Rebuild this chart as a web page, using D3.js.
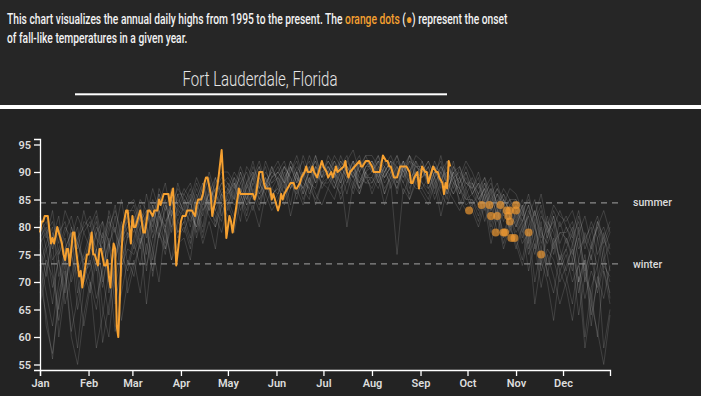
<!DOCTYPE html>
<html><head><meta charset="utf-8">
<script src="https://cdn.jsdelivr.net/npm/d3@7"></script>
<style>
html,body{margin:0;padding:0;background:#242424;}
svg{display:block;}
</style></head>
<body>
<svg id="chart" width="701" height="396"></svg>
<script>
// ---------- DATA ----------
const introLine1 = ["This chart visualizes the annual daily highs from 1995 to the present. The ", "orange dots", " (", "●", ") represent the onset"];
const introLine2 = "of fall-like temperatures in a given year.";
const cityTitle = "Fort Lauderdale, Florida";

const yTicks = [55, 60, 65, 70, 75, 80, 85, 90, 95];
const thresholdNames = ["summer", "winter"];
const thresholdValues = [84.4, 73.3];

// Current year: day of year (0 = Jan 1) and daily high (°F)
const currentDay = [0,1,2,3,5,7,8,9,11,13,14,15,16,17,18,19,21,22,23,25,26,27,28,30,31,33,34,35,37,38,39,41,42,43,44,45,46,47,48,49,50,51,52,53,55,56,58,59,60,61,63,64,65,66,67,69,70,72,73,75,76,77,79,81,82,83,84,85,86,87,89,90,91,93,94,96,97,99,100,101,103,104,105,106,107,109,110,112,113,114,116,117,118,119,121,122,123,125,126,127,128,130,132,134,136,137,138,139,140,142,143,144,147,148,149,150,152,153,154,155,156,158,160,162,163,164,166,167,169,170,171,173,174,175,177,178,179,180,181,183,184,186,187,188,189,190,194,195,196,197,198,201,204,205,206,208,210,212,213,217,219,221,222,223,224,226,228,229,230,234,236,237,238,239,241,242,243,244,246,247,248,250,251,253,254,255,257,258,259,260,261,262];
const currentHigh = [79,81,81,82,82,77,78,77,80,78,77,75,74,76,76,73,79,79,76,71,72,69,71,75,75,79,75,75,73,76,76,73,73,74,71,69,74,77,76,62,60,67,75,80,83,83,77,82,80,80,82,83,81,79,79,83,83,82,83,83,85,84,86,86,86,84,86,87,80,73,78,81,82,82,83,83,83,82,84,85,85,86,88,89,89,86,82,85,87,89,94,89,84,78,82,81,79,83,85,87,86,86,86,86,86,85,86,88,90,90,88,87,87,85,86,85,83,84,86,85,86,87,88,88,87,87,88,89,90,91,90,90,91,90,89,90,91,92,91,90,89,90,89,90,91,90,91,92,90,89,90,91,92,91,91,92,92,91,90,90,93,92,92,91,91,89,89,90,91,91,90,88,88,89,90,87,89,91,90,90,88,90,91,90,90,89,88,86,88,87,92,91];

// Onset of fall-like temperatures in past years: day of year and high (°F)
const onsetDay = [274,282,287,294,304,288,292,298,300,304,299,300,291,296,297,301,303,312,320];
const onsetHigh = [83,84,84,84,84,82,82,83,83,83,82,81,79,79,79,78,78,79,75];

// Past years: daily highs sampled every 4 days (day 0, 4, ..., 364)
const pastStep = 4;
const pastHighs = [
 [78,80,72,65,76,79,74,70, 75,79,81,68,74,78,80, 82,77,80,84,79,83,85,81, 84,80,86,83,85,87,82, 86,88,84,87,89,86,88,90, 89,87,91,88,90,86,89,91, 90,92,89,91,90,88,91, 92,90,89,91,93,90,88,91, 90,89,91,87,90,88,89,86, 88,85,87,83,86,84,80, 82,78,83,80,76,81,79,74, 78,75,79,72,76,80,74,77],
 [74,68,62,70,75,66,58,69, 72,76,65,60,71,77,79, 76,80,72,82,78,84,80,86, 82,85,79,84,88,83,86, 84,87,89,85,88,91,87,89, 90,88,92,89,87,90,93,89, 91,89,92,90,88,91,93, 90,92,89,91,88,90,92,89, 91,88,90,92,87,89,86,88, 87,89,84,86,82,85,83, 80,84,77,81,73,78,82,76, 72,77,68,74,64,70,76,67],
 [80,82,77,79,81,75,78,80, 82,78,76,80,83,79,81, 79,83,81,85,82,80,84,87, 85,83,87,84,86,89,85, 87,85,88,90,86,89,87,91, 88,91,89,87,90,92,88,90, 92,90,88,91,89,92,90, 91,89,92,90,87,91,93,90, 89,91,88,90,92,88,87,89, 86,88,85,87,84,86,82, 84,80,82,85,79,77,80,83, 80,78,81,76,79,82,77,80],
 [70,64,56,68,73,61,67,72, 68,74,59,66,72,63,70, 74,68,77,72,79,75,82,78, 80,76,83,78,84,81,86, 83,86,81,88,85,89,84,87, 86,89,84,90,87,85,91,88, 89,87,90,86,91,89,88, 88,91,86,90,89,92,87,90, 88,86,90,89,85,91,87,84, 85,82,86,80,84,78,82, 78,74,80,70,76,72,68,75, 71,66,74,60,69,73,58,65],
 [77,79,74,76,80,78,72,75, 79,76,81,77,74,80,82, 80,84,78,82,86,81,83,85, 83,86,82,88,84,87,89, 88,86,90,87,91,88,86,89, 91,88,90,93,89,91,88,92, 90,93,91,89,92,90,93, 93,91,90,92,89,91,90,92, 90,92,89,91,88,90,91,87, 89,86,88,85,87,83,85, 83,81,84,78,82,80,77,79, 79,81,76,78,80,75,78,81],
 [72,76,69,74,66,71,77,73, 70,65,73,77,69,75,72, 77,73,80,76,82,79,74,81, 79,83,80,85,82,80,84, 85,82,87,84,86,83,88,86, 87,85,88,86,89,87,85,88, 88,90,87,89,86,90,88, 89,87,90,88,91,86,89,87, 87,89,85,88,86,90,84,87, 84,86,81,85,79,83,80, 81,77,79,75,80,73,77,72, 75,70,73,67,72,69,74,70],
 [81,78,83,75,79,82,77,74, 78,82,75,79,84,77,83, 83,79,86,81,84,88,82,86, 86,84,88,85,90,86,88, 89,87,91,88,90,87,92,89, 90,92,88,91,89,93,90,88, 91,89,93,90,92,88,91, 92,89,91,93,90,88,92,91, 91,88,92,89,90,87,91,88, 87,90,86,88,84,87,85, 85,82,86,81,84,79,83,80, 82,79,83,77,81,78,80,76],
 [75,62,57,66,72,60,55,64, 70,58,64,72,61,68,74, 71,78,66,76,70,80,74,77, 78,74,82,77,81,76,84, 82,79,85,81,84,80,86,83, 85,88,82,87,84,89,86,84, 87,85,89,80,88,86,90, 86,89,84,88,75,87,85,88, 86,84,88,82,87,85,83,86, 83,80,84,77,82,76,80, 77,73,78,66,74,70,63,72, 69,63,71,58,66,61,55,64],
 [79,81,76,80,74,78,82,79, 76,80,78,82,75,79,84, 85,81,83,79,87,84,82,88, 84,87,83,86,89,84,87, 86,89,85,88,92,87,90,88, 89,91,87,90,92,88,91,89, 92,90,91,93,89,91,92, 90,92,91,89,92,90,93,89, 92,89,91,88,91,89,90,88, 88,86,89,84,87,85,83, 82,85,80,83,78,82,76,81, 77,80,74,79,76,81,78,75],
 [73,77,80,71,76,79,68,74, 77,72,79,70,76,81,73, 78,82,75,84,80,77,85,79, 81,85,78,83,86,80,85, 84,88,83,86,89,85,87,91, 88,86,91,89,87,90,92,87, 89,91,88,92,90,87,91, 91,88,90,92,86,91,89,90, 89,90,87,91,89,86,88,90, 86,84,87,82,85,81,84, 80,83,76,80,74,79,81,73, 76,72,78,70,75,68,73,71],
 [82,79,81,77,83,80,76,81, 80,83,77,81,79,85,78, 81,85,83,80,86,83,87,84, 87,85,89,86,84,88,90, 90,88,86,91,89,92,88,90, 92,89,91,88,93,90,92,89, 93,91,90,92,94,90,92, 91,93,90,92,91,89,93,91, 90,92,89,93,88,91,89,92, 90,87,89,86,88,84,87, 86,83,85,82,86,80,84,82, 81,83,79,82,77,80,83,79],
 [68,74,71,63,70,76,65,71, 74,67,72,78,66,73,76, 75,79,73,78,83,76,80,83, 82,78,84,80,87,83,81, 87,84,86,83,88,85,89,84, 86,90,87,89,85,88,87,91, 90,88,86,91,89,87,90, 88,90,87,89,91,88,86,92, 88,87,89,84,88,86,89,85, 85,83,86,81,83,79,82, 79,81,75,78,72,76,74,70, 73,76,70,74,62,71,67,73],
 [76,71,79,74,68,77,80,72, 73,79,70,76,82,74,78, 80,76,83,78,81,85,79,84, 83,81,85,88,83,86,84, 85,89,87,84,90,86,89,87, 89,86,90,92,88,87,91,90, 91,88,92,90,87,92,89, 89,92,88,90,93,89,91,88, 91,87,90,88,92,89,86,90, 87,84,88,83,86,82,85, 81,84,78,83,77,80,75,79, 78,74,80,71,77,73,79,72],
 [79,73,66,75,78,70,74,79, 81,74,69,77,80,71,79, 77,82,79,74,83,80,86,82, 85,82,80,86,83,89,86, 88,85,90,86,83,88,91,86, 87,91,89,85,90,88,93,89, 90,87,91,89,92,86,90, 92,88,91,87,90,92,88,89, 89,91,86,90,88,92,87,85, 86,88,83,87,81,85,79, 83,79,82,76,81,71,78,74, 76,79,70,75,66,78,72,68],
 [81,76,78,82,73,80,77,83, 78,81,74,83,79,76,82, 84,80,82,87,83,79,85,83, 86,88,84,82,87,85,88, 87,90,88,85,89,91,87,88, 90,88,92,90,86,91,89,92, 89,92,90,88,91,93,89, 90,93,89,91,88,92,90,93, 92,88,91,90,86,90,88,91, 88,85,87,89,83,86,84, 85,81,84,80,83,78,82,77, 80,77,82,78,74,81,76,79],
 [66,72,78,60,69,75,71,62, 69,76,71,64,74,79,68, 73,77,81,71,79,76,83,79, 81,77,83,79,85,82,79, 84,81,86,82,87,84,88,85, 88,84,87,90,86,89,84,88, 87,90,85,88,91,87,89, 87,90,86,89,87,91,85,89, 87,85,89,86,84,88,85,83, 84,81,85,79,83,77,81, 76,80,72,77,69,75,71,66, 70,74,64,71,68,60,72,66]
];

// ---------- DRAW ----------
const W = 701, H = 396;
const orange = "#f5a030";
const svg = d3.select("#chart");

svg.append("rect").attr("width", W).attr("height", 105).attr("fill", "#262626");
svg.append("rect").attr("y", 105).attr("width", W).attr("height", 4).attr("fill", "#ffffff");
svg.append("rect").attr("y", 109).attr("width", W).attr("height", H - 109).attr("fill", "#232323");

const headFont = "500 14px Roboto, sans-serif";
const t1 = svg.append("text").attr("x", 7).attr("y", 24).attr("fill", "#f2f2f2").style("font", headFont);
introLine1.forEach((s, i) => {
  t1.append("tspan").attr("fill", (i === 1 || i === 3) ? orange : "#f2f2f2").text(s);
});
const w1 = t1.node().getComputedTextLength();
const k = 501 / w1;
t1.attr("transform", `translate(7,0) scale(${k},1) translate(-7,0)`);
svg.append("text").attr("x", 7).attr("y", 43).attr("fill", "#f2f2f2").style("font", headFont)
  .attr("transform", `translate(7,0) scale(${k},1) translate(-7,0)`).text(introLine2);

const tt = svg.append("text").attr("x", 260).attr("y", 86).attr("text-anchor", "middle")
  .attr("fill", "#e6e6e6").style("font", "300 20px Roboto, sans-serif").text(cityTitle);
const wt = tt.node().getComputedTextLength();
tt.attr("transform", `translate(260,0) scale(${155 / wt},1) translate(-260,0)`);
svg.append("rect").attr("x", 75).attr("y", 93.3).attr("width", 372).attr("height", 2).attr("fill", "#ffffff");

// scales
const yearStart = new Date(2023, 0, 1);
const toDate = d => d3.timeDay.offset(yearStart, d);
const x = d3.scaleTime().domain([yearStart, new Date(2023, 11, 31)]).range([40, 610]);
const y = d3.scaleLinear().domain([54, 96]).range([370, 139]);

const line = d3.line().x(d => x(toDate(d[0]))).y(d => y(d[1]));

// past years
svg.append("g").selectAll("path").data(pastHighs).join("path")
  .attr("d", arr => line(arr.map((v, i) => [i * pastStep, v])))
  .attr("fill", "none").attr("stroke", "#c8c8c8").attr("stroke-opacity", 0.18).attr("stroke-width", 1);

// thresholds
const th = svg.append("g");
thresholdValues.forEach((v, i) => {
  th.append("line").attr("x1", 40).attr("x2", 622).attr("y1", y(v)).attr("y2", y(v))
    .attr("stroke", "#8a8a8a").attr("stroke-width", 1.2).attr("stroke-dasharray", "6,5");
  th.append("text").attr("x", 633).attr("y", y(v)).attr("dy", "0.35em").attr("fill", "#dddddd")
    .style("font", "500 10.5px Roboto, sans-serif").text(thresholdNames[i]);
});

// current year
svg.append("path").datum(currentDay.map((d, i) => [d, currentHigh[i]]))
  .attr("d", line).attr("fill", "none").attr("stroke", orange).attr("stroke-width", 2)
  .attr("stroke-linejoin", "round");

// onset dots
svg.append("g").selectAll("circle").data(onsetDay.map((d, i) => [d, onsetHigh[i]])).join("circle")
  .attr("cx", d => x(toDate(d[0]))).attr("cy", d => y(d[1])).attr("r", 4)
  .attr("fill", "#f09a30").attr("fill-opacity", 0.68);

// axes
const axisFont = "600 11px Roboto, sans-serif";
const gx = svg.append("g").attr("transform", "translate(0,370)")
  .call(d3.axisBottom(x).ticks(d3.timeMonth.every(1)).tickFormat(d3.timeFormat("%b")));
const gy = svg.append("g").attr("transform", "translate(40,0)")
  .call(d3.axisLeft(y).tickValues(yTicks));
[gx, gy].forEach(g => {
  g.selectAll("path,line").attr("stroke", "#ffffff").attr("stroke-width", 1.3);
  g.selectAll("text").attr("fill", "#dddddd").style("font", axisFont);
});
</script>
</body></html>
